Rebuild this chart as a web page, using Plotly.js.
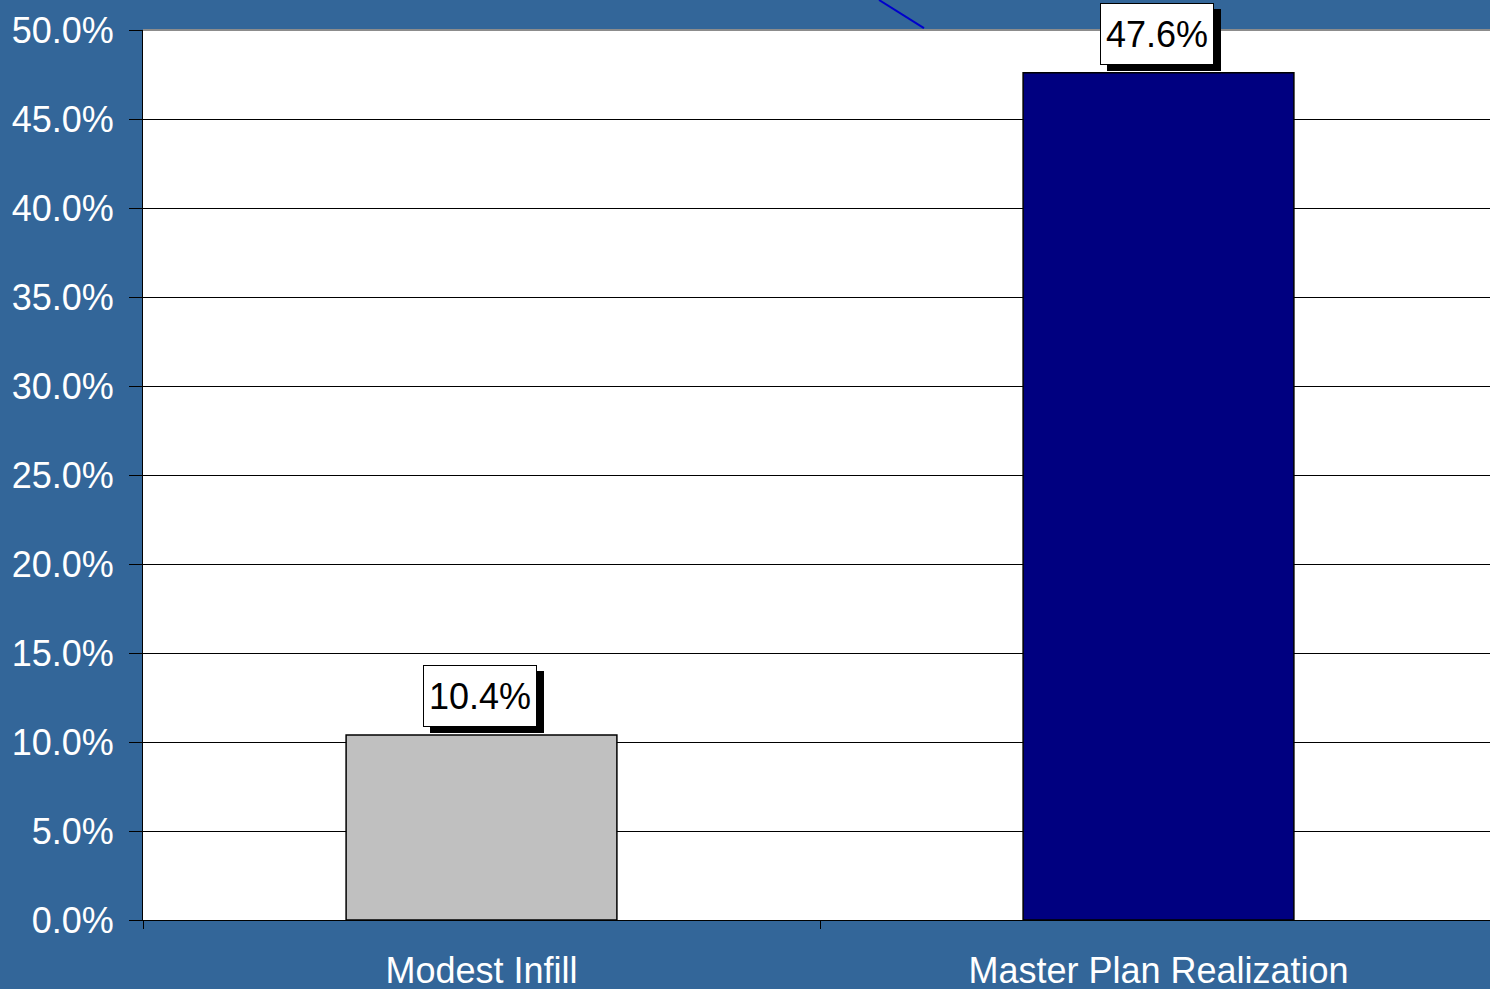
<!DOCTYPE html>
<html>
<head>
<meta charset="utf-8">
<script src="https://cdn.plot.ly/plotly-3.0.1.min.js"></script>
<style>
  html, body { margin: 0; padding: 0; overflow: hidden; background: #336699; }
  #chart { width: 1498px; height: 989px; }
</style>
</head>
<body>
<div id="chart"></div>
<script>
// Growth share by development scenario
const scenarios = ['Modest Infill', 'Master Plan Realization'];
const shares = [10.4, 47.6];
const barColors = ['#C0C0C0', '#000080'];
const yTicks = [0, 5, 10, 15, 20, 25, 30, 35, 40, 45, 50];

const fmt = v => v.toFixed(1) + '%';
const FONT = 'Liberation Sans, Arial, sans-serif';

const trace = {
  type: 'bar',
  x: scenarios,
  y: shares,
  marker: { color: barColors, line: { color: '#000000', width: 1.5 } },
  hoverinfo: 'skip'
};

// value callouts: black drop shadow first, white box with the value on top
const annotations = [];
scenarios.forEach((s, i) => {
  const common = {
    x: s, y: shares[i], xref: 'x', yref: 'y',
    yanchor: 'bottom', xanchor: 'center',
    showarrow: false, width: 110, height: 58,
    font: { family: FONT, size: 36, color: '#000000' }
  };
  annotations.push(Object.assign({}, common, {
    text: '\u00a0',
    bgcolor: '#000000', bordercolor: '#000000', borderwidth: 1,
    xshift: 5, yshift: 2
  }));
  annotations.push(Object.assign({}, common, {
    text: fmt(shares[i]),
    bgcolor: '#FFFFFF', bordercolor: '#000000', borderwidth: 1,
    xshift: -2, yshift: 8
  }));
});

const layout = {
  width: 1498, height: 989,
  margin: { l: 143, r: 1, t: 30, b: 69 },
  paper_bgcolor: '#336699',
  plot_bgcolor: '#FFFFFF',
  bargap: 0.6,
  showlegend: false,
  font: { family: FONT, color: '#FFFFFF' },
  xaxis: {
    type: 'category',
    tickson: 'boundaries',
    ticks: 'outside', ticklen: 8, tickcolor: '#000000', tickwidth: 1,
    showline: true, linecolor: '#000000', linewidth: 1,
    showgrid: false,
    tickfont: { size: 36, color: '#FFFFFF' },
    ticklabelstandoff: 19
  },
  yaxis: {
    range: [0, 50],
    tickvals: yTicks,
    ticktext: yTicks.map(fmt),
    ticks: 'outside', ticklen: 13, tickcolor: '#000000', tickwidth: 1,
    showline: true, linecolor: '#000000', linewidth: 1,
    showgrid: true, gridcolor: '#000000', gridwidth: 1,
    zeroline: false,
    tickfont: { size: 36, color: '#FFFFFF' },
    ticklabelstandoff: 8
  },
  shapes: [
    { type: 'line', xref: 'paper', yref: 'paper', x0: 0, x1: 1, y0: 1, y1: 1,
      line: { color: '#8C8C8C', width: 2 } },
    { type: 'line', xref: 'paper', yref: 'paper', x0: 0.5436, y0: 1.0337, x1: 0.5768, y1: 1.0022,
      line: { color: '#0000CC', width: 2 } }
  ],
  annotations: annotations
};

Plotly.newPlot('chart', [trace], layout, { displayModeBar: false, staticPlot: true });
</script>
</body>
</html>
